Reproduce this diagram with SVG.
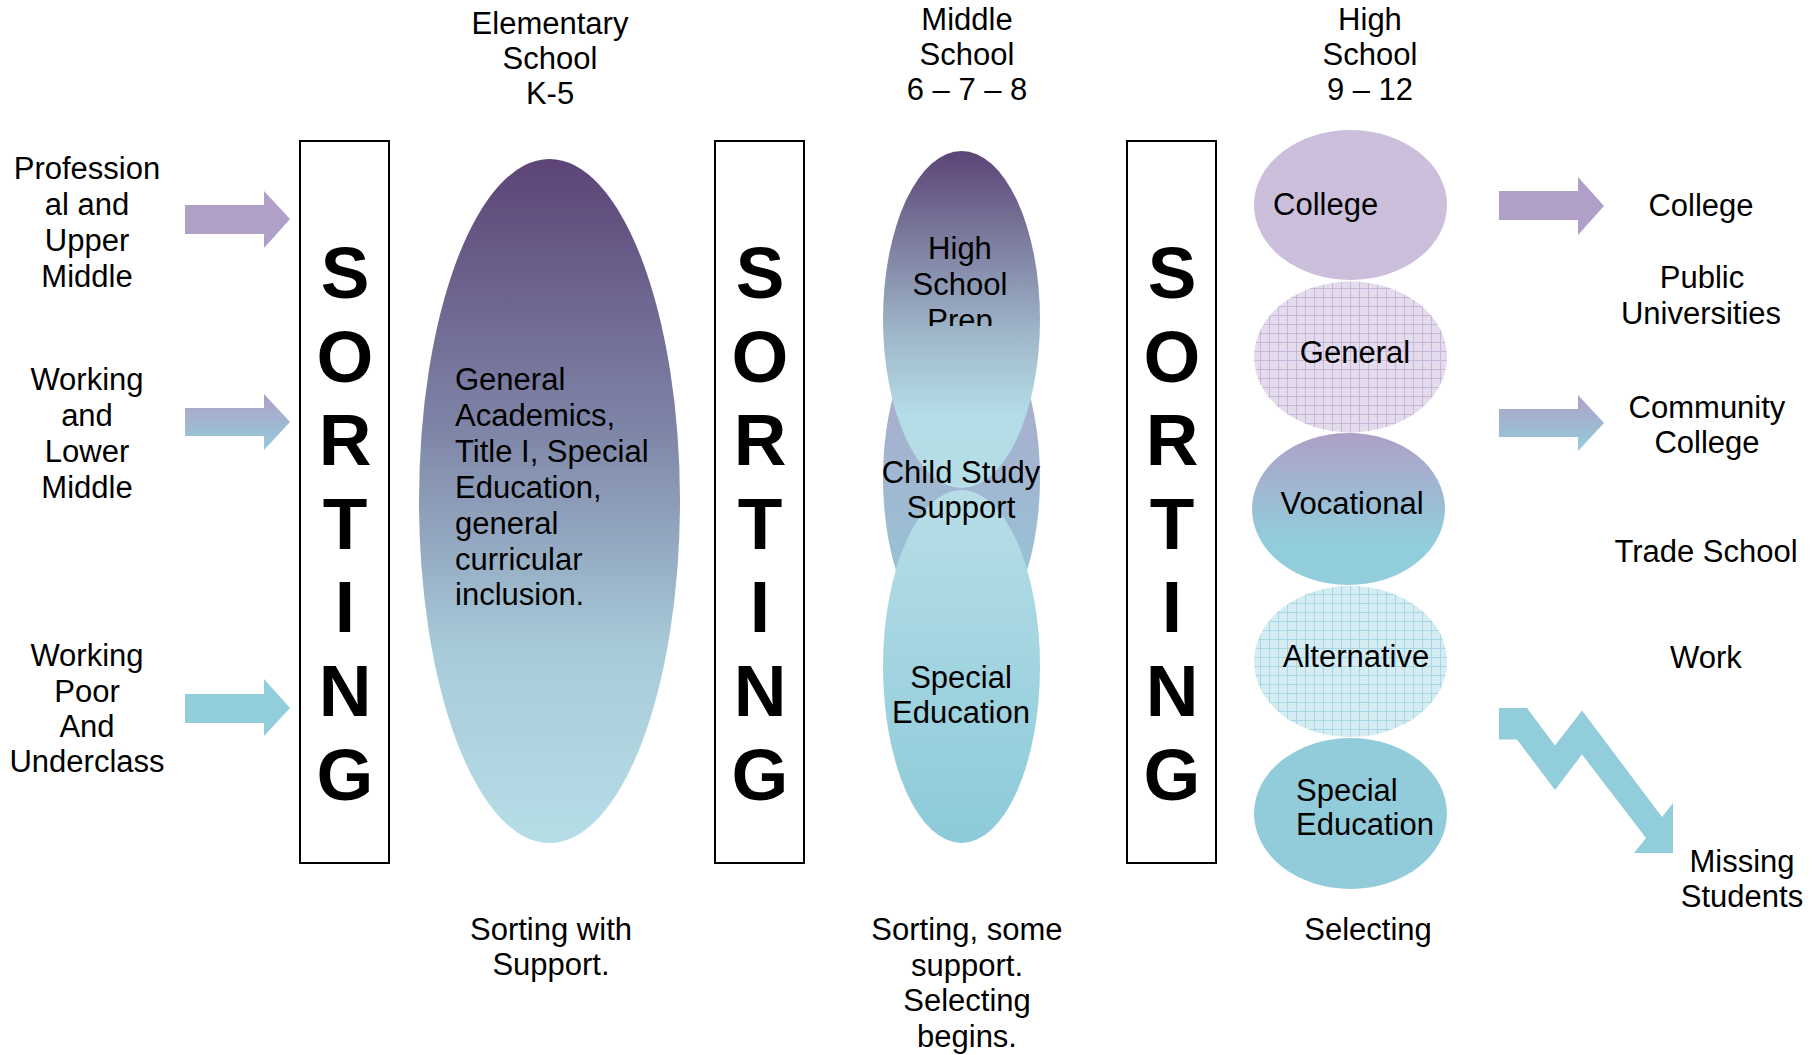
<svg xmlns="http://www.w3.org/2000/svg" width="1816" height="1055" viewBox="0 0 1816 1055">
<style>
text{font-family:"Liberation Sans",Arial,sans-serif;font-size:31px;fill:#000}
.c{text-anchor:middle}
.big{font-size:73px;font-weight:bold;text-anchor:middle}
.box{fill:#fff;stroke:#000;stroke-width:2}
.purple{fill:#b09fc7}
.blue{fill:#92cddb}
</style>
<defs>
<linearGradient id="gElem" x1="0" y1="0" x2="0" y2="1">
<stop offset="0" stop-color="#5c4476"/>
<stop offset="0.4" stop-color="#7f86a8"/>
<stop offset="0.72" stop-color="#a8cbd9"/>
<stop offset="1" stop-color="#b6dee7"/>
</linearGradient>
<linearGradient id="gPrep" x1="0" y1="0" x2="0" y2="1">
<stop offset="0" stop-color="#5c4476"/>
<stop offset="0.55" stop-color="#9fb8ca"/>
<stop offset="0.78" stop-color="#b4dce6"/>
<stop offset="1" stop-color="#b6dee7"/>
</linearGradient>
<linearGradient id="gChild" x1="0" y1="0" x2="0" y2="1">
<stop offset="0" stop-color="#b2a3c9"/>
<stop offset="1" stop-color="#90cbda"/>
</linearGradient>
<linearGradient id="gSped" x1="0" y1="0" x2="0" y2="1">
<stop offset="0" stop-color="#b7dee7"/>
<stop offset="1" stop-color="#8dcad9"/>
</linearGradient>
<linearGradient id="gVoc" x1="0" y1="0" x2="0" y2="1">
<stop offset="0" stop-color="#ae9fc7"/>
<stop offset="0.7" stop-color="#92cddb"/>
<stop offset="1" stop-color="#92cddb"/>
</linearGradient>
<linearGradient id="gArrow" x1="0" y1="0" x2="0" y2="1">
<stop offset="0" stop-color="#b09fc7"/>
<stop offset="1" stop-color="#92cddb"/>
</linearGradient>
<pattern id="pGen" width="9" height="9" patternUnits="userSpaceOnUse">
<rect width="9" height="9" fill="#e4dced"/>
<path d="M0 0.5H9M0.5 0V9" stroke="#c7b7d9" stroke-width="1"/>
</pattern>
<pattern id="pAlt" width="9" height="9" patternUnits="userSpaceOnUse">
<rect width="9" height="9" fill="#d4ecf2"/>
<path d="M0 0.5H9M0.5 0V9" stroke="#a7d7e3" stroke-width="1"/>
</pattern>
<clipPath id="clipPrep"><rect x="880" y="150" width="165" height="176"/></clipPath>
</defs>

<g id="headers">
<text class="c" x="550" y="34">Elementary</text>
<text class="c" x="550" y="69">School</text>
<text class="c" x="550" y="104">K-5</text>
<text class="c" x="967" y="30">Middle</text>
<text class="c" x="967" y="65">School</text>
<text class="c" x="967" y="100">6 – 7 – 8</text>
<text class="c" x="1370" y="30">High</text>
<text class="c" x="1370" y="65">School</text>
<text class="c" x="1370" y="100">9 – 12</text>
</g>

<g id="class-labels">
<text class="c" x="87" y="179">Profession</text>
<text class="c" x="87" y="215">al and</text>
<text class="c" x="87" y="251">Upper</text>
<text class="c" x="87" y="287">Middle</text>
<text class="c" x="87" y="390">Working</text>
<text class="c" x="87" y="426">and</text>
<text class="c" x="87" y="462">Lower</text>
<text class="c" x="87" y="498">Middle</text>
<text class="c" x="87" y="666">Working</text>
<text class="c" x="87" y="702">Poor</text>
<text class="c" x="87" y="737">And</text>
<text class="c" x="87" y="772">Underclass</text>
</g>

<g id="connectors">
<polygon class="purple" points="185,205 264,205 264,191 290,219 264,248 264,234 185,234"/>
<polygon fill="url(#gArrow)" points="185,408 264,408 264,394 290,422 264,450 264,436 185,436"/>
<polygon class="blue" points="185,694 264,694 264,679 290,708 264,736 264,723 185,723"/>
<polygon class="purple" points="1499,191 1578,191 1578,177 1604,206 1578,235 1578,220 1499,220"/>
<polygon fill="url(#gArrow)" points="1499,409 1578,409 1578,395 1604,423 1578,451 1578,437 1499,437"/>
<polygon class="blue" points="1499,708 1527,708 1555,745.5 1582,710.5 1662,817 1673,803 1673,853 1634,853 1646,838 1582,754.5 1555,790 1517,739.5 1499,739.5"/>
</g>

<g id="sorting1">
<rect class="box" x="300" y="141" width="89" height="722"/>
<text class="big" x="345" y="298">S</text>
<text class="big" x="345" y="382">O</text>
<text class="big" x="345" y="465">R</text>
<text class="big" x="345" y="549">T</text>
<text class="big" x="345" y="632">I</text>
<text class="big" x="345" y="716">N</text>
<text class="big" x="345" y="800">G</text>
</g>

<g id="sorting2">
<rect class="box" x="715" y="141" width="89" height="722"/>
<text class="big" x="760" y="298">S</text>
<text class="big" x="760" y="382">O</text>
<text class="big" x="760" y="465">R</text>
<text class="big" x="760" y="549">T</text>
<text class="big" x="760" y="632">I</text>
<text class="big" x="760" y="716">N</text>
<text class="big" x="760" y="800">G</text>
</g>

<g id="sorting3">
<rect class="box" x="1127" y="141" width="89" height="722"/>
<text class="big" x="1172" y="298">S</text>
<text class="big" x="1172" y="382">O</text>
<text class="big" x="1172" y="465">R</text>
<text class="big" x="1172" y="549">T</text>
<text class="big" x="1172" y="632">I</text>
<text class="big" x="1172" y="716">N</text>
<text class="big" x="1172" y="800">G</text>
</g>

<g id="elementary">
<ellipse cx="549.5" cy="501" rx="130.5" ry="342" fill="url(#gElem)"/>
<text x="455" y="390">General</text>
<text x="455" y="426">Academics,</text>
<text x="455" y="462">Title I, Special</text>
<text x="455" y="498">Education,</text>
<text x="455" y="534">general</text>
<text x="455" y="570">curricular</text>
<text x="455" y="605">inclusion.</text>
</g>

<g id="ms-child-study">
<ellipse cx="961.5" cy="478" rx="78.5" ry="168" fill="url(#gChild)"/>
</g>
<g id="ms-hs-prep">
<ellipse cx="961.5" cy="319.5" rx="78.5" ry="168.5" fill="url(#gPrep)"/>
<g clip-path="url(#clipPrep)">
<text class="c" x="960" y="259">High</text>
<text class="c" x="960" y="295">School</text>
<text class="c" x="960" y="331">Prep</text>
</g>
</g>
<g id="ms-special-ed">
<ellipse cx="961.5" cy="666.5" rx="78.5" ry="176.5" fill="url(#gSped)"/>
<text class="c" x="961" y="688">Special</text>
<text class="c" x="961" y="723">Education</text>
</g>
<g id="ms-child-study-label">
<text class="c" x="961" y="483">Child Study</text>
<text class="c" x="961" y="518">Support</text>
</g>

<g id="hs-college">
<ellipse cx="1350.5" cy="205" rx="96.5" ry="75" fill="#cbbfdb"/>
<text x="1273" y="215">College</text>
</g>
<g id="hs-general">
<ellipse cx="1350.5" cy="357" rx="96.5" ry="75.5" fill="url(#pGen)"/>
<text class="c" x="1355" y="363">General</text>
</g>
<g id="hs-vocational">
<ellipse cx="1348.5" cy="509" rx="96.5" ry="76" fill="url(#gVoc)"/>
<text class="c" x="1352" y="514">Vocational</text>
</g>
<g id="hs-alternative">
<ellipse cx="1350.5" cy="661.5" rx="96.5" ry="75.5" fill="url(#pAlt)"/>
<text class="c" x="1356" y="667">Alternative</text>
</g>
<g id="hs-special-ed">
<ellipse cx="1350.5" cy="813.5" rx="96.5" ry="75.5" fill="#92ccda"/>
<text x="1296" y="801">Special</text>
<text x="1296" y="835">Education</text>
</g>

<g id="outcomes">
<text class="c" x="1701" y="216">College</text>
<text class="c" x="1702" y="288">Public</text>
<text class="c" x="1701" y="324">Universities</text>
<text class="c" x="1707" y="418">Community</text>
<text class="c" x="1707" y="453">College</text>
<text class="c" x="1706" y="562">Trade School</text>
<text class="c" x="1706" y="668">Work</text>
<text class="c" x="1742" y="872">Missing</text>
<text class="c" x="1742" y="907">Students</text>
</g>

<g id="footers">
<text class="c" x="551" y="940">Sorting with</text>
<text class="c" x="551" y="975">Support.</text>
<text class="c" x="967" y="940">Sorting, some</text>
<text class="c" x="967" y="976">support.</text>
<text class="c" x="967" y="1011">Selecting</text>
<text class="c" x="967" y="1047">begins.</text>
<text class="c" x="1368" y="940">Selecting</text>
</g>
</svg>
